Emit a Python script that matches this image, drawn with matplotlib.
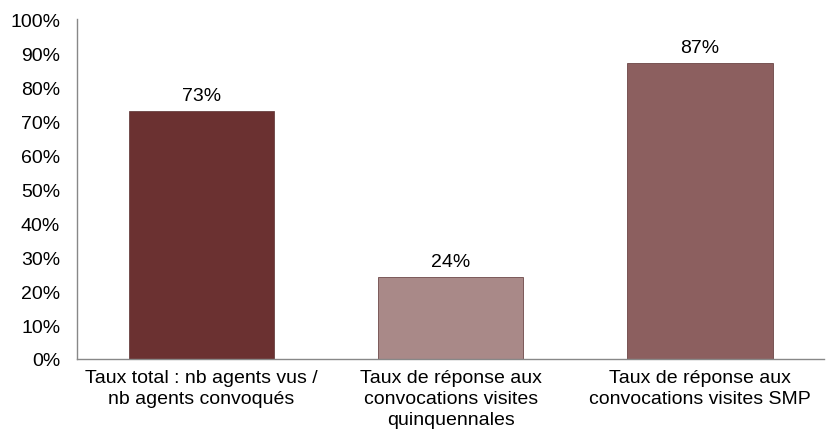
import matplotlib.pyplot as plt
from matplotlib.ticker import PercentFormatter

categories = [
    "Taux total : nb agents vus /\nnb agents convoqués",
    "Taux de réponse aux\nconvocations visites\nquinquennales",
    "Taux de réponse aux\nconvocations visites SMP",
]
values = [73, 24, 87]
colors = ["#6B3131", "#A98988", "#8C5F5F"]

plt.rcParams["font.family"] = ["Liberation Sans", "DejaVu Sans"]

fig = plt.figure(figsize=(8.26, 4.39), dpi=100)
ax = fig.add_axes([0.093, 0.18, 0.905, 0.774])

x = range(len(categories))
bars = ax.bar(x, values, width=0.585, color=colors, edgecolor="#5a3030",
              linewidth=0.5, zorder=2)

for b, v in zip(bars, values):
    ax.annotate(f"{v}%", (b.get_x() + b.get_width() / 2, v),
                xytext=(0, 5), textcoords="offset points",
                ha="center", va="bottom", fontsize=14)

ax.set_xlim(-0.5, 2.5)
ax.set_ylim(0, 100)
ax.set_yticks(range(0, 101, 10))
ax.yaxis.set_major_formatter(PercentFormatter(decimals=0))
ax.set_xticks(list(x))
ax.set_xticklabels(categories, fontsize=14, linespacing=1.3)
ax.tick_params(axis="y", length=0, labelsize=14, pad=12)
ax.tick_params(axis="x", length=0, pad=7)

for side in ["top", "right"]:
    ax.spines[side].set_visible(False)
for side in ["left", "bottom"]:
    ax.spines[side].set_color("#888888")
    ax.spines[side].set_linewidth(1)

fig.savefig("out.png", dpi=100)
